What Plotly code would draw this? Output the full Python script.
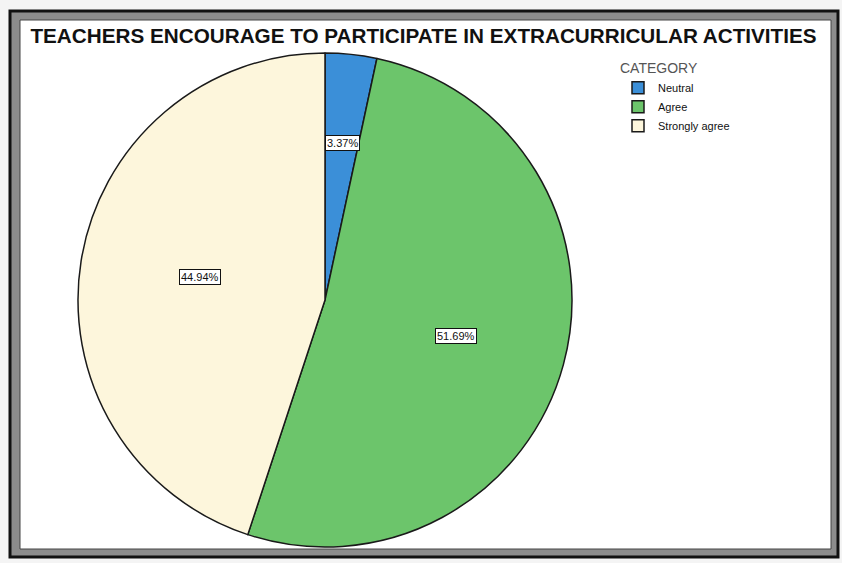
import math
import plotly.graph_objects as go

# ---- data ----
categories = ["Neutral", "Agree", "Strongly agree"]
percentages = [3.37, 51.69, 44.94]
colors = ["#3b8fd8", "#6cc56b", "#fdf6dc"]
title_text = "TEACHERS ENCOURAGE TO PARTICIPATE IN EXTRACURRICULAR ACTIVITIES"
legend_title = "CATEGORY"

# ---- layout constants (pixels) ----
W, H = 842, 563
CX, CY, R = 325, 300, 247
label_radial = [0.67, 0.55, 0.6]


def px(x):
    return x / W


def py(y):
    return 1 - y / H


fig = go.Figure()
fig.add_trace(go.Pie(
    labels=categories,
    values=percentages,
    sort=False,
    direction="clockwise",
    rotation=0,
    textinfo="none",
    marker=dict(colors=colors, line=dict(color="#1a1a1a", width=1.5)),
    domain=dict(x=[px(CX - R), px(CX + R)], y=[py(CY + R), py(CY - R)]),
    hovertemplate="%{label}: %{value:.2f}%<extra></extra>",
))

# percentage labels computed from the data
total = sum(percentages)
cum = 0.0
annotations = []
for v, f in zip(percentages, label_radial):
    theta = 2 * math.pi * (cum + v / 2) / total
    cum += v
    lx = CX + f * R * math.sin(theta)
    ly = CY - f * R * math.cos(theta)
    annotations.append(dict(
        x=px(lx), y=py(ly), xref="paper", yref="paper",
        text=f"{v:.2f}%", showarrow=False,
        font=dict(family="Liberation Sans, Arial", size=11, color="#111"),
        bgcolor="white", bordercolor="#111", borderwidth=1, borderpad=1,
    ))

shapes = [
    dict(type="rect", xref="paper", yref="paper", layer="below",
         x0=px(10), x1=px(838), y0=py(557), y1=py(11),
         fillcolor="#8c8c8c", line=dict(color="#111", width=3)),
    dict(type="rect", xref="paper", yref="paper", layer="below",
         x0=px(20), x1=px(831), y0=py(549), y1=py(20),
         fillcolor="white", line=dict(color="#444", width=1)),
]

fig.update_layout(
    width=W, height=H,
    margin=dict(l=0, r=0, t=0, b=0),
    paper_bgcolor="#f4f4f4",
    plot_bgcolor="white",
    font=dict(family="Liberation Sans, Arial", color="#111"),
    title=dict(text=f"<b>{title_text}</b>", x=0.503, xanchor="center",
               y=py(36), yanchor="middle",
               font=dict(family="Liberation Sans, Arial", size=20.7, color="#111")),
    showlegend=True,
    legend=dict(
        x=px(618), y=py(55), xanchor="left", yanchor="top",
        title=dict(text=legend_title, side="top",
                   font=dict(size=14, color="#555")),
        font=dict(size=11, color="#111"),
        bgcolor="rgba(0,0,0,0)",
        tracegroupgap=0,
    ),
    annotations=annotations,
    shapes=shapes,
)

fig.write_html(
    "out.html",
    config={"displayModeBar": False},
    post_script="document.body.style.margin='0';document.body.style.overflow='hidden';",
)
